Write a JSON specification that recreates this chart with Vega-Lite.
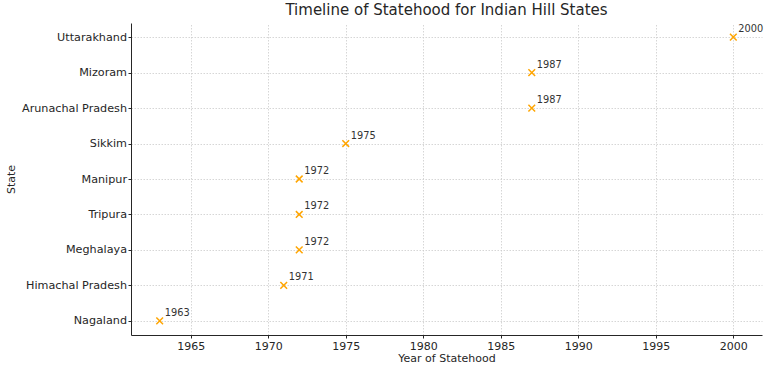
{
  "$schema": "https://vega.github.io/schema/vega-lite/v6.json",
  "width": 631,
  "height": 312,
  "autosize": "none",
  "padding": {"left": 131, "top": 23, "right": 6, "bottom": 37},
  "background": "white",
  "config": {
    "font": "DejaVu Sans",
    "view": {"stroke": null},
    "axis": {"labelFont": "DejaVu Sans", "titleFont": "DejaVu Sans"}
  },
  "title": {
    "text": "Timeline of Statehood for Indian Hill States",
    "fontSize": 15,
    "font": "DejaVu Sans",
    "fontWeight": "normal",
    "color": "#262626",
    "offset": 5
  },
  "data": {
    "values": [
      {"State": "Nagaland", "Year": 1963},
      {"State": "Himachal Pradesh", "Year": 1971},
      {"State": "Meghalaya", "Year": 1972},
      {"State": "Tripura", "Year": 1972},
      {"State": "Manipur", "Year": 1972},
      {"State": "Sikkim", "Year": 1975},
      {"State": "Arunachal Pradesh", "Year": 1987},
      {"State": "Mizoram", "Year": 1987},
      {"State": "Uttarakhand", "Year": 2000}
    ]
  },
  "encoding": {
    "x": {
      "field": "Year",
      "type": "quantitative",
      "scale": {"domain": [1961.15, 2001.85], "nice": false, "zero": false},
      "axis": {
        "title": "Year of Statehood",
        "values": [1965, 1970, 1975, 1980, 1985, 1990, 1995, 2000],
        "format": "d",
        "labelFontSize": 11,
        "titleFontSize": 11,
        "titleFontWeight": "normal",
        "labelColor": "#262626",
        "titleColor": "#262626",
        "domainColor": "#262626",
        "tickColor": "#262626",
        "tickSize": 3,
        "labelPadding": 2,
        "titlePadding": 1,
        "grid": true,
        "gridColor": "#cccccc",
        "gridDash": [1.5, 1.5],
        "gridWidth": 0.8
      }
    },
    "y": {
      "field": "State",
      "type": "ordinal",
      "sort": ["Uttarakhand", "Mizoram", "Arunachal Pradesh", "Sikkim", "Manipur", "Tripura", "Meghalaya", "Himachal Pradesh", "Nagaland"],
      "scale": {"type": "point", "padding": 0.4},
      "axis": {
        "title": "State",
        "labelFontSize": 11.2,
        "titleFontSize": 11,
        "titleFontWeight": "normal",
        "labelColor": "#262626",
        "titleColor": "#262626",
        "domainColor": "#262626",
        "tickColor": "#262626",
        "tickSize": 3,
        "labelPadding": 1.5,
        "titlePadding": 5,
        "grid": true,
        "gridColor": "#cccccc",
        "gridDash": [1.5, 1.5],
        "gridWidth": 0.8
      }
    }
  },
  "layer": [
    {
      "mark": {"type": "point", "shape": "M-1,-1L1,1M-1,1L1,-1", "filled": false, "stroke": "#FFA500", "strokeWidth": 1.5, "size": 45, "opacity": 1}
    },
    {
      "mark": {"type": "text", "align": "left", "baseline": "alphabetic", "dx": 5, "dy": -5, "fontSize": 9.8, "color": "#333333"},
      "encoding": {"text": {"field": "Year", "type": "quantitative", "format": "d"}}
    }
  ]
}
